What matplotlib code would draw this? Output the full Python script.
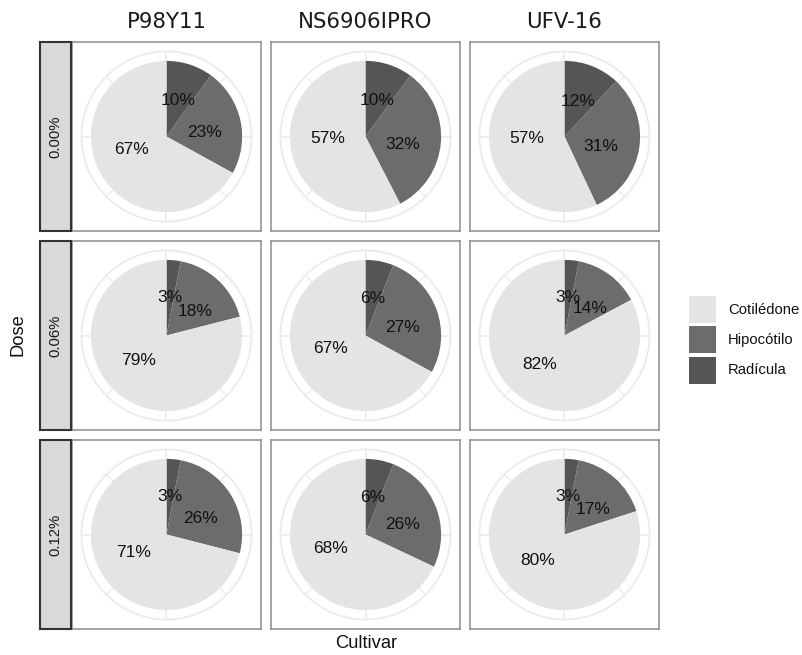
import numpy as np
import matplotlib
matplotlib.use("Agg")
import matplotlib.pyplot as plt
from matplotlib.patches import Rectangle, Circle

# ---------------- data ----------------
cultivars = ["P98Y11", "NS6906IPRO", "UFV-16"]
doses = ["0.00%", "0.06%", "0.12%"]
parts = ["Radícula", "Hipocótilo", "Cotilédone"]          # drawing order (clockwise from 12 o'clock)
legend_order = ["Cotilédone", "Hipocótilo", "Radícula"]
radicula = [[10, 10, 12], [3, 6, 3], [3, 6, 3]]
hipocotilo = [[23, 32, 31], [18, 27, 14], [26, 26, 17]]
cotiledone = [[67, 57, 57], [79, 67, 82], [71, 68, 80]]

# ---------------- style ----------------
colors = {"Cotilédone": "#e4e4e4", "Hipocótilo": "#6c6c6c", "Radícula": "#555555"}
label_nudge_deg = {"Radícula": 0, "Hipocótilo": 7, "Cotilédone": 10}
W, H = 803, 655
DPI = 100
FONT = "Liberation Sans"

fig = plt.figure(figsize=(W / DPI, H / DPI), dpi=DPI)
fig.patch.set_facecolor("white")


def fx(px):
    return px / W


def fy(py):
    return 1 - py / H


col_left = [72, 271, 470]
row_top = [42, 241, 440]
PW = 189
strip_left, strip_w = 40, 31

series = {"Radícula": radicula, "Hipocótilo": hipocotilo, "Cotilédone": cotiledone}

for i, dose in enumerate(doses):
    for j, cv in enumerate(cultivars):
        ax = fig.add_axes([fx(col_left[j]), fy(row_top[i] + PW), PW / W, PW / H])
        vals = [series[p][i][j] for p in parts]
        # grid (polar-style) under the pie
        ax.add_patch(Circle((0, 0), 0.45, fill=False, edgecolor="#ebebeb", lw=1.3, zorder=0.5))
        for a in np.arange(0, 360, 45):
            t = np.deg2rad(a)
            ax.plot([0, 0.45 * np.sin(t)], [0, 0.45 * np.cos(t)], color="#ebebeb",
                    lw=1.2 if a % 90 == 0 else 0.9, zorder=0.5, solid_capstyle="butt")
        ax.pie(vals, colors=[colors[p] for p in parts], startangle=90, counterclock=False,
               radius=0.4, wedgeprops=dict(linewidth=0, zorder=1))
        total = float(sum(vals))
        cum = 0.0
        for p, v in zip(parts, vals):
            mid = (cum + v / 2) / total * 360 + label_nudge_deg[p]
            cum += v
            t = np.deg2rad(mid)
            ax.text(0.2 * np.sin(t), 0.2 * np.cos(t), f"{v}%", ha="center", va="center",
                    fontsize=12.5, family=FONT, color="#111111", zorder=3)
        ax.set_xlim(-0.5, 0.5)
        ax.set_ylim(-0.5, 0.5)
        ax.set_aspect("auto")
        ax.set_frame_on(True)
        ax.set_xticks([])
        ax.set_yticks([])
        for s in ax.spines.values():
            s.set_color("#8c8c8c")
            s.set_linewidth(1.1)
        if i == 0:
            fig.text(fx(col_left[j] + PW / 2), fy(22), cv, ha="center", va="center",
                     fontsize=15.3, family="DejaVu Sans", color="#1a1a1a")
    # strip
    fig.add_artist(Rectangle((fx(strip_left), fy(row_top[i] + PW)), strip_w / W, PW / H,
                             transform=fig.transFigure, facecolor="#d9d9d9",
                             edgecolor="#333333", lw=1.5))
    fig.text(fx(strip_left + strip_w / 2), fy(row_top[i] + PW / 2), dose, rotation=90,
             ha="center", va="center", fontsize=10.7, family=FONT, color="#1a1a1a")

# axis titles
fig.text(fx(18), fy(335), "Dose", rotation=90, ha="center", va="center",
         fontsize=13.2, family=FONT, color="#111111")
fig.text(fx(366), fy(643), "Cultivar", ha="center", va="center",
         fontsize=13.2, family=FONT, color="#111111")

# legend
key_x, key_w = 689, 27
key_tops = [296, 326, 357]
for name, top in zip(legend_order, key_tops):
    fig.add_artist(Rectangle((fx(key_x), fy(top + key_w)), key_w / W, key_w / H,
                             transform=fig.transFigure, facecolor=colors[name], edgecolor="none"))
    fig.text(fx(728), fy(top + key_w / 2), name, ha="left", va="center",
             fontsize=10.7, family=FONT, color="#111111")

fig.savefig("out.png", dpi=DPI, facecolor="white")
